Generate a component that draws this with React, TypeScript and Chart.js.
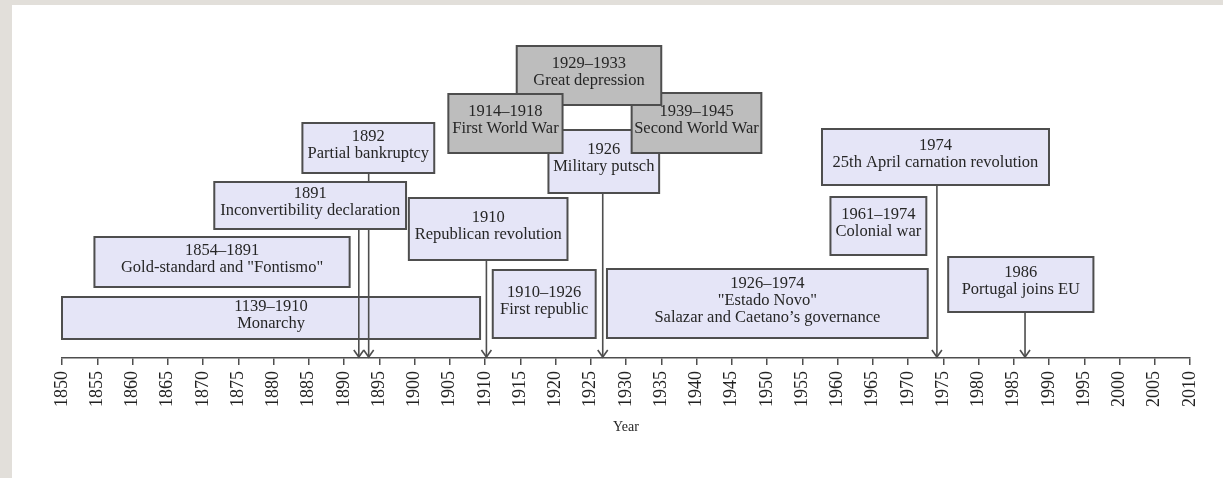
import { useEffect, useRef } from "react";
import { Chart, registerables } from "chart.js";

Chart.register(...registerables);

// ---------- data ----------
const tickYears = [
  1850, 1855, 1860, 1865, 1870, 1875, 1880, 1885, 1890, 1895, 1900, 1905, 1910,
  1915, 1920, 1925, 1930, 1935, 1940, 1945, 1950, 1955, 1960, 1965, 1970, 1975,
  1980, 1985, 1990, 1995, 2000, 2005, 2010,
];
const axisTitle = "Year";

const eventTitles = [
  "1139\u20131910",
  "1854\u20131891",
  "1910\u20131926",
  "1926\u20131974",
  "1961\u20131974",
  "1986",
  "1891",
  "1892",
  "1910",
  "1926",
  "1974",
  "1939\u20131945",
  "1929\u20131933",
  "1914\u20131918",
];
const eventDescriptions = [
  ["Monarchy"],
  ['Gold-standard and "Fontismo"'],
  ["First republic"],
  ['"Estado Novo"', "Salazar and Caetano\u2019s governance"],
  ["Colonial war"],
  ["Portugal joins EU"],
  ["Inconvertibility declaration"],
  ["Partial bankruptcy"],
  ["Republican revolution"],
  ["Military putsch"],
  ["25th April carnation revolution"],
  ["Second World War"],
  ["Great depression"],
  ["First World War"],
];
// "world" events are the grey ones
const eventScope = [
  "pt", "pt", "pt", "pt", "pt", "pt", "pt", "pt", "pt", "pt", "pt",
  "world", "world", "world",
];
// year where each marker arrow hits the axis, and the event it comes from
const arrowYears = [1892.1, 1893.5, 1910.2, 1926.7, 1974.1, 1986.6];
const arrowSource = [6, 7, 8, 9, 10, 5];

// ---------- layout (box extents in axis units) ----------
const boxStart = [1850, 1854.6, 1911.1, 1927.3, 1959, 1975.7, 1871.6, 1884.1, 1899.2, 1919, 1957.8, 1930.8, 1914.5, 1904.8];
const boxEnd = [1909.3, 1890.8, 1925.7, 1972.8, 1972.6, 1996.3, 1898.8, 1902.8, 1921.7, 1934.7, 1990, 1949.2, 1935, 1921];
const boxLow = [19, 71, 20, 20, 103, 46, 129, 185, 98, 165, 173, 205, 253, 205];
const boxHigh = [61, 121, 88, 89, 161, 101, 176, 235, 160, 228, 229, 265, 312, 264];
const boxLayer = [0, 0, 0, 0, 0, 0, 1, 1, 1, 1, 1, 1, 1, 1];

const FONT = '"Liberation Serif", "Times New Roman", serif';
const LIGHT_FILL = "#e5e5f7";
const DARK_FILL = "#bdbdbd";
const EDGE = "#4e4e4e";
const TEXT = "#262626";

function drawBoxes(chart: any, layer: number) {
  const { ctx } = chart;
  const xs = chart.scales.x;
  const ys = chart.scales.y;
  ctx.save();
  for (let i = 0; i < eventTitles.length; i++) {
    if (boxLayer[i] !== layer) continue;
    const x0 = xs.getPixelForValue(boxStart[i]);
    const x1 = xs.getPixelForValue(boxEnd[i]);
    const y0 = ys.getPixelForValue(boxHigh[i]);
    const y1 = ys.getPixelForValue(boxLow[i]);
    ctx.fillStyle = eventScope[i] === "world" ? DARK_FILL : LIGHT_FILL;
    ctx.fillRect(x0, y0, x1 - x0, y1 - y0);
    // text, clipped to the box
    const lines = [eventTitles[i], ...eventDescriptions[i]];
    ctx.save();
    ctx.beginPath();
    ctx.rect(x0 + 1, y0 + 1, x1 - x0 - 2, y1 - y0 - 2);
    ctx.clip();
    ctx.fillStyle = TEXT;
    ctx.font = `16.5px ${FONT}`;
    ctx.textAlign = "center";
    ctx.textBaseline = "middle";
    const lh = 17;
    const cx = (x0 + x1) / 2;
    const cy = (y0 + y1) / 2 - 3;
    const startY = cy - ((lines.length - 1) * lh) / 2;
    lines.forEach((t, k) => ctx.fillText(t, cx, startY + k * lh));
    ctx.restore();
    ctx.strokeStyle = EDGE;
    ctx.lineWidth = 2;
    ctx.strokeRect(x0, y0, x1 - x0, y1 - y0);
  }
  ctx.restore();
}

function drawArrowHeads(chart: any) {
  const { ctx } = chart;
  const xs = chart.scales.x;
  const ys = chart.scales.y;
  ctx.save();
  ctx.strokeStyle = EDGE;
  ctx.lineWidth = 1.6;
  for (let i = 0; i < arrowYears.length; i++) {
    const x = xs.getPixelForValue(arrowYears[i]);
    const y = ys.getPixelForValue(0);
    ctx.beginPath();
    ctx.moveTo(x - 5, y - 8);
    ctx.lineTo(x, y - 1);
    ctx.lineTo(x + 5, y - 8);
    ctx.stroke();
  }
  ctx.restore();
}

const timelinePlugin = {
  id: "timelineBoxes",
  beforeDatasetsDraw(chart: any) {
    drawBoxes(chart, 0);
  },
  afterDatasetsDraw(chart: any) {
    drawArrowHeads(chart);
    drawBoxes(chart, 1);
  },
};

export default function App() {
  const ref = useRef<HTMLCanvasElement | null>(null);

  useEffect(() => {
    if (!ref.current) return;
    const datasets = arrowYears.map((yr, i) => ({
      data: [
        { x: yr, y: boxLow[arrowSource[i]] },
        { x: yr, y: 0 },
      ],
      showLine: true,
      borderColor: EDGE,
      borderWidth: 1.6,
      pointRadius: 0,
      pointHoverRadius: 0,
      fill: false,
    }));
    const chart = new Chart(ref.current, {
      type: "scatter",
      data: { datasets },
      options: {
        animation: false,
        responsive: false,
        events: [],
        layout: { padding: { left: 62, right: 33, top: 8, bottom: 0 } },
        plugins: { legend: { display: false }, tooltip: { enabled: false } },
        scales: {
          x: {
            type: "linear",
            min: tickYears[0],
            max: tickYears[tickYears.length - 1],
            afterBuildTicks: (scale: any) => {
              scale.ticks = tickYears.map((v) => ({ value: v }));
            },
            afterFit: (scale: any) => {
              scale.height = 120;
            },
            ticks: {
              autoSkip: false,
              minRotation: 90,
              maxRotation: 90,
              padding: 6,
              color: "#222222",
              font: { family: FONT, size: 18 },
              callback: (v: any) => String(v),
            },
            grid: {
              display: true,
              drawOnChartArea: false,
              drawTicks: true,
              tickLength: 7,
              color: EDGE,
              lineWidth: 1.5,
            },
            border: { display: true, color: EDGE, width: 1.6 },
            title: {
              display: true,
              text: axisTitle,
              color: "#262626",
              font: { family: FONT, size: 14 },
              padding: { top: 0, bottom: 42 },
            },
          },
          y: { type: "linear", display: false, min: 0, max: 350 },
        },
      },
      plugins: [timelinePlugin],
    } as any);
    return () => chart.destroy();
  }, []);

  return (
    <div
      style={{
        position: "fixed",
        left: 0,
        top: 0,
        width: 1223,
        height: 478,
        background: "#e2dfda",
        overflow: "hidden",
      }}
    >
      <div
        style={{
          position: "absolute",
          left: 12,
          top: 5,
          right: 0,
          bottom: 0,
          background: "#ffffff",
        }}
      />
      <canvas
        ref={ref}
        width={1223}
        height={478}
        style={{ position: "absolute", left: 0, top: 0, width: 1223, height: 478 }}
      />
    </div>
  );
}
